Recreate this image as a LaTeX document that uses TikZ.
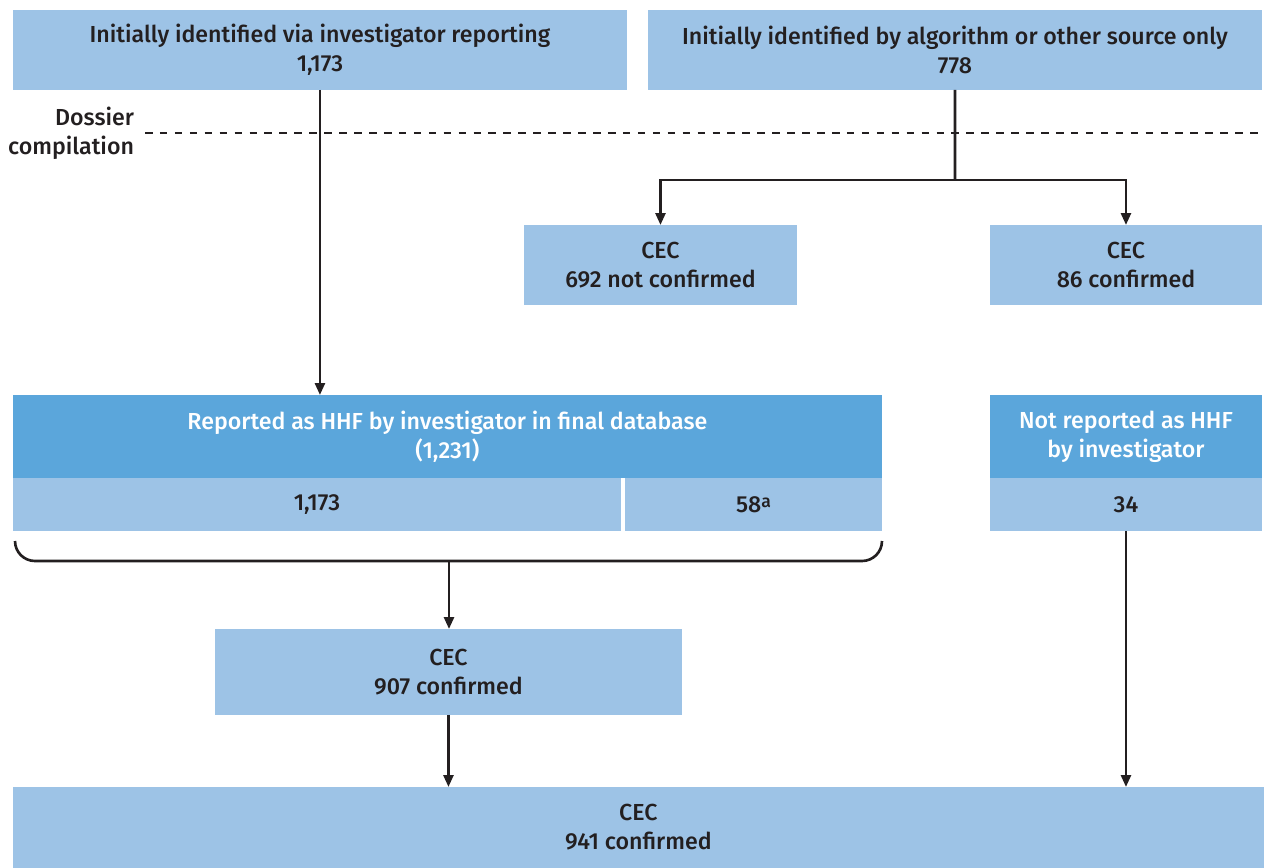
\documentclass[tikz,border=0pt]{standalone}
\usepackage{fontspec}
\setmainfont{Fira Sans}[UprightFont=* Medium]
\usetikzlibrary{arrows.meta}
\definecolor{lblue}{HTML}{9DC3E6}
\definecolor{dblue}{HTML}{5BA6DB}
\definecolor{txt}{HTML}{231F20}
\begin{document}
\begin{tikzpicture}[x=0.02cm,y=-0.02cm,
  box/.style={fill=lblue,draw=none,inner sep=0pt,outer sep=0pt,anchor=north west,align=center,text=txt,font=\fontsize{13.2}{16.5}\selectfont},
  hbox/.style={box,fill=dblue,text=white},
  conn/.style={draw=txt,line width=1.5pt},
  arr/.style={conn,-{Triangle[length=0.24cm,width=0.2cm]}}]
\useasboundingbox (0,0) rectangle (1264,868);
\node[box,minimum width=12.28cm,minimum height=1.6cm] (tl) at (13,10) {Initially identified via investigator reporting\\1,173};
\node[box,minimum width=12.28cm,minimum height=1.6cm] (tr) at (648,10) {Initially identified by algorithm or other source only\\778};
\node[box,fill=none,anchor=east,align=right] (dos) at (134,133) {Dossier\\compilation};
\coordinate (dl) at (145,133);
\coordinate (dr) at (1264,133);
\draw[draw=txt,line width=1.1pt,dash pattern=on 4.3pt off 4.2pt] (dl) -- (dr);
\node[box,minimum width=5.46cm,minimum height=1.6cm] (c692) at (524,225) {CEC\\692 not confirmed};
\node[box,minimum width=5.44cm,minimum height=1.6cm] (c86) at (990,225) {CEC\\86 confirmed};
\node[hbox,minimum width=17.38cm,minimum height=1.66cm] (rep) at (13,395) {Reported as HHF by investigator in final database\\(1,231)};
\node[box,minimum width=12.16cm,minimum height=1.06cm] (s1) at (13,478) {1,173};
\node[box,minimum width=5.14cm,minimum height=1.06cm] (s58) at (625,478) {58\raisebox{0.35ex}{\fontsize{10}{10}\selectfont a}};
\node[hbox,minimum width=5.44cm,minimum height=1.66cm] (nrep) at (990,395) {Not reported as HHF\\by investigator};
\node[box,minimum width=5.44cm,minimum height=1.06cm] (s34) at (990,478) {34};
\node[box,minimum width=9.34cm,minimum height=1.72cm] (c907) at (215,629) {CEC\\907 confirmed};
\node[box,minimum width=25.02cm,minimum height=1.62cm] (bot) at (13,787) {CEC\\941 confirmed};
\coordinate (j) at (955,180);
\draw[conn] (tr.south) -- (j);
\draw[arr] (j) -| (c692.north);
\draw[arr] (j) -| (c86.north);
\draw[arr] (tl.south) -- (tl.south |- rep.north);
\coordinate (bl) at (15,541);
\coordinate (br) at (882,541);
\coordinate (bm) at (449,561);
\draw[conn,rounded corners=0.4cm] (bl) -- (bl |- bm) -- (br |- bm) -- (br);
\draw[arr] (bm) -- (bm |- c907.north);
\draw[arr] (c907.south) -- (c907.south |- bot.north);
\draw[arr] (s34.south) -- (s34.south |- bot.north);
\end{tikzpicture}
\end{document}
